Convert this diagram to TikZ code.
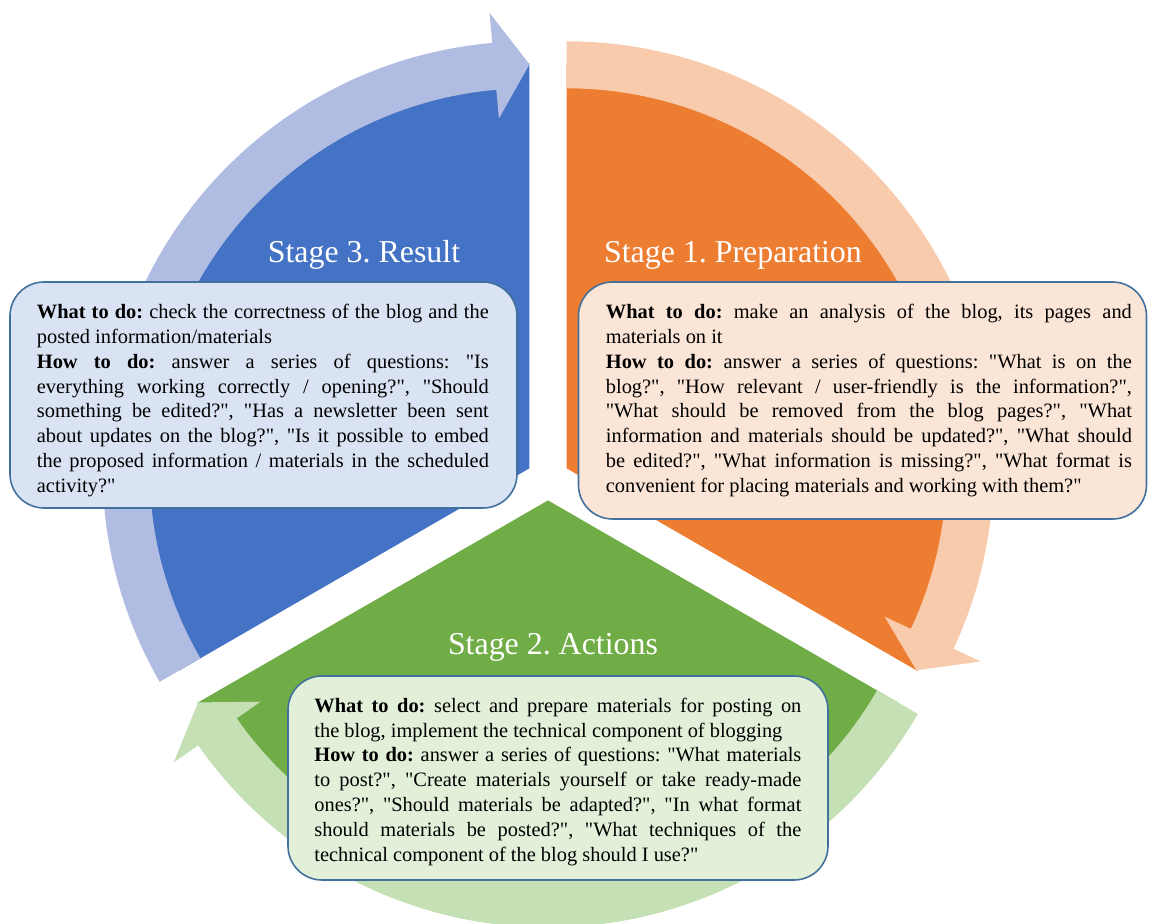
\documentclass[tikz,border=0pt]{standalone}
\usepackage{fontspec}
\setmainfont{Liberation Serif}[Ligatures=TeXOff]
\definecolor{resblue}{HTML}{4472C4}
\definecolor{resarrow}{HTML}{B0BCE2}
\definecolor{resfill}{HTML}{DAE3F3}
\definecolor{preporange}{HTML}{ED7D31}
\definecolor{preparrow}{HTML}{F8CBAD}
\definecolor{prepfill}{HTML}{FBE5D6}
\definecolor{actgreen}{HTML}{70AD47}
\definecolor{actarrow}{HTML}{C5E0B4}
\definecolor{actfill}{HTML}{E2F0D9}
\definecolor{boxline}{HTML}{41719C}
\setlength{\parindent}{0pt}
\frenchspacing
\hbadness=10000

\begin{document}
\begin{tikzpicture}[x=1pt,y=1pt,
	stagebox/.style={draw=boxline,line width=1.6pt,rounded corners=34pt,inner sep=0pt},
	body/.style={anchor=base west,inner sep=0pt,align=justify,font=\fontsize{20.4}{24.8}\selectfont},
	title/.style={anchor=base,text=white,inner sep=0pt,font=\fontsize{31.9}{38}\selectfont}]
	\useasboundingbox (-548,-445) rectangle (601,479);
	% exploded pie, every slice with its own arrow
	\foreach \a/\slice/\arr in {90/preporange/preparrow, -30/actgreen/actarrow, 210/resblue/resarrow}{
		\begin{scope}[shift={(\a-60:21.4)}]
			\fill[\slice] (0,0) -- (\a:405) arc[start angle=\a, delta angle=-120, radius=405] -- cycle;
			\fill[\arr] (\a:427) arc[start angle=\a, delta angle=-115, radius=427]
				-- (\a-115:457) -- (\a-120:404) -- (\a-115:351)
				-- (\a-115:380) arc[start angle=\a-115, delta angle=115, radius=380] -- cycle;
		\end{scope}
	}
	\node[title] (prep title) at (185,216) {Stage 1. Preparation};
	\node[title] (act title) at (5,-175) {Stage 2. Actions};
	\node[title] (res title) at (-184,216) {Stage 3. Result};
	\node[stagebox,fill=resfill,minimum width=507pt,minimum height=226pt] (res box) at (-284.5,84) {};
	\node[stagebox,fill=prepfill,minimum width=568pt,minimum height=237pt] (prep box) at (314.5,78.5) {};
	\node[stagebox,fill=actfill,minimum width=540pt,minimum height=204pt] (act box) at (10,-299) {};
	\node[body,text width=452pt] (res text) at ([shift={(27.5,-37.5)}]res box.north west)
		{\textbf{What to do:} check the correctness of the blog and the\linebreak posted information/materials\par
		\textbf{How to do:} answer a series of questions: "Is\linebreak everything working correctly / opening?", "Should\linebreak something be edited?", "Has a newsletter been sent\linebreak about updates on the blog?", "Is it possible to embed\linebreak the proposed information / materials in the scheduled\linebreak activity?"};
	\node[body,text width=526pt] (prep text) at ([shift={(28,-37.5)}]prep box.north west)
		{\textbf{What to do:} make an analysis of the blog, its pages and\linebreak materials on it\par
		\textbf{How to do:} answer a series of questions: "What is on the\linebreak blog?", "How relevant / user-friendly is the information?",\linebreak "What should be removed from the blog pages?", "What\linebreak information and materials should be updated?", "What should\linebreak be edited?", "What information is missing?", "What format is\linebreak convenient for placing materials and working with them?"};
	\node[body,text width=487pt] (act text) at ([shift={(27,-37)}]act box.north west)
		{\textbf{What to do:} select and prepare materials for posting on\linebreak the blog, implement the technical component of blogging\par
		\textbf{How to do:} answer a series of questions: "What materials\linebreak to post?", "Create materials yourself or take ready-made\linebreak ones?", "Should materials be adapted?", "In what format\linebreak should materials be posted?", "What techniques of the\linebreak technical component of the blog should I use?"};
\end{tikzpicture}
\end{document}
